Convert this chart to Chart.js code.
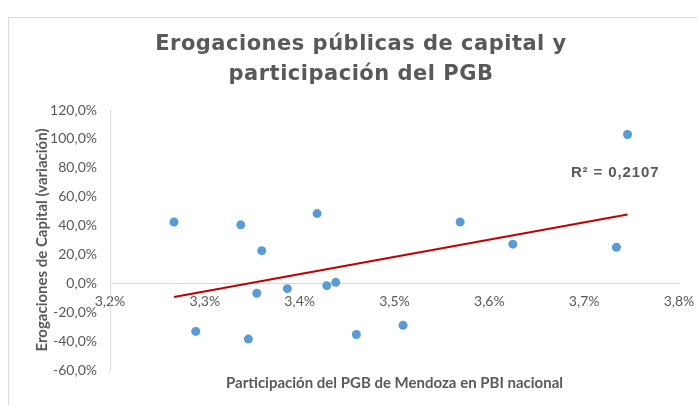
<!DOCTYPE html>
<html>
<head>
<meta charset="utf-8">
<script src="https://cdn.jsdelivr.net/npm/chart.js@4.4.1/dist/chart.umd.min.js"></script>
<style>
  html, body { margin: 0; padding: 0; background: #fff; }
  #wrap { position: relative; width: 697px; height: 405px; }
</style>
</head>
<body>
<div id="wrap"><canvas id="chart" width="697" height="405"></canvas></div>
<script>
// ---------- DATA ----------
const titleLines = ["Erogaciones públicas de capital y", "participación del PGB"];
const xTitle = "Participación del PGB de Mendoza en PBI nacional";
const yTitle = "Erogaciones de Capital (variación)";
const rSquaredText = "R² = 0,2107";

// participación del PGB (%)
const pgbShare = [3.2675, 3.2904, 3.3379, 3.3459, 3.3548, 3.360, 3.387, 3.4184,
                  3.4286, 3.438, 3.4598, 3.509, 3.5692, 3.6248, 3.734, 3.7457];
// variación erogaciones de capital (%)
const capitalVar = [42.5, -33.3, 40.5, -38.6, -6.9, 22.6, -3.7, 48.3,
                    -1.6, 0.7, -35.4, -29.0, 42.5, 27.1, 25.0, 103.0];

// linear trend endpoints (as drawn)
const trendX = [3.2675, 3.7457];
const trendY = [-9.4, 47.6];

const xMin = 3.2, xMax = 3.8, xStep = 0.1;
const yMin = -60, yMax = 120, yStep = 20;

// ---------- HELPERS ----------
const gray = "#595959";
const fmtX = v => v.toFixed(1).replace(".", ",") + "%";
const fmtY = v => v.toFixed(1).replace(".", ",") + "%";
const tickFont = { family: "Lato, 'Open Sans', sans-serif", size: 14 };
const axisTitleFont = { family: "Lato, 'Open Sans', sans-serif", size: 15, weight: "bold", lineHeight: 1.2 };

const framePlugin = {
  id: "frame",
  beforeDraw(chart) {
    const ctx = chart.ctx;
    ctx.save();
    ctx.strokeStyle = "#d9d9d9";
    ctx.lineWidth = 1;
    ctx.strokeRect(8.5, 17.5, 800, 500);
    ctx.restore();
  },
  afterDraw(chart) {
    const ctx = chart.ctx;
    ctx.save();
    ctx.fillStyle = gray;
    ctx.textAlign = "center";
    ctx.textBaseline = "middle";
    ctx.font = "bold 21px 'DejaVu Sans', sans-serif";
    if ("letterSpacing" in ctx) ctx.letterSpacing = "0.5px";
    ctx.fillText(titleLines[0], 361, 45);
    ctx.fillText(titleLines[1], 361, 75);

    // R² label
    const xs = chart.scales.x, ys = chart.scales.y;
    ctx.font = "bold 15px 'Liberation Sans', Arial, sans-serif";
    if ("letterSpacing" in ctx) ctx.letterSpacing = "0.9px";
    ctx.textAlign = "left";
    ctx.fillText(rSquaredText, xs.getPixelForValue(3.686), ys.getPixelForValue(76.5));
    ctx.restore();
  }
};

new Chart(document.getElementById("chart"), {
  type: "scatter",
  data: {
    datasets: [
      {
        label: "PGB",
        data: pgbShare.map((x, i) => ({ x, y: capitalVar[i] })),
        backgroundColor: "#5b9bd5",
        borderWidth: 0,
        pointRadius: 4.5,
        order: 2
      },
      {
        label: "Tendencia",
        type: "line",
        data: trendX.map((x, i) => ({ x, y: trendY[i] })),
        borderColor: "#c00000",
        borderWidth: 2,
        pointRadius: 0,
        fill: false,
        order: 1
      }
    ]
  },
  options: {
    responsive: false,
    animation: false,
    layout: { padding: { top: 110, right: 18, left: 0, bottom: 0 } },
    plugins: {
      legend: { display: false },
      tooltip: { enabled: false },
      title: { display: false },
      subtitle: {
        display: true,
        position: "bottom",
        fullSize: false,
        text: xTitle,
        color: gray,
        font: axisTitleFont,
        padding: { top: 4, bottom: 13 }
      }
    },
    scales: {
      x: {
        type: "linear",
        position: { y: 0 },
        min: xMin, max: xMax,
        grid: { display: false, drawTicks: false },
        border: { display: true, color: "#d9d9d9", width: 1 },
        ticks: {
          stepSize: xStep,
          padding: 10,
          color: gray,
          font: tickFont,
          callback: v => fmtX(v),
          maxRotation: 0
        },
        afterFit: s => { s.paddingLeft = 0; s.paddingRight = 0; }
      },
      y: {
        type: "linear",
        min: yMin, max: yMax,
        grid: { display: false, drawTicks: false },
        border: { display: true, color: "#d9d9d9", width: 1 },
        ticks: {
          stepSize: yStep,
          padding: 13,
          color: gray,
          font: tickFont,
          callback: v => fmtY(v)
        },
        title: {
          display: true,
          text: yTitle,
          color: gray,
          font: axisTitleFont,
          padding: { top: 33, bottom: 0 }
        },
        afterFit: s => { s.width = 110; }
      }
    }
  },
  plugins: [framePlugin]
});
</script>
</body>
</html>
